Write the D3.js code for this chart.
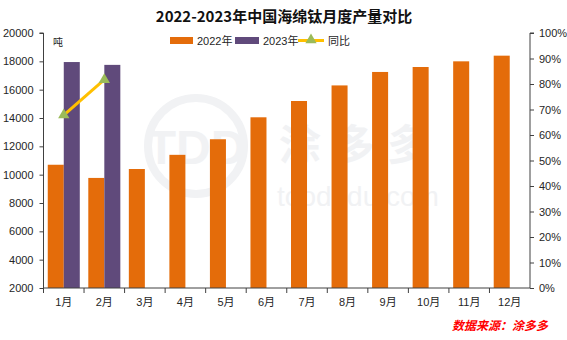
<!DOCTYPE html>
<html>
<head>
<meta charset="utf-8">
<script src="https://cdn.jsdelivr.net/npm/d3@7"></script>
<style>
  body { margin: 0; background: #fff; }
  text { font-family: Arial, "Liberation Sans", "Noto Sans CJK SC", sans-serif; }
</style>
</head>
<body>
<div id="chart"></div>
<script>
// data
const months = ["1月", "2月", "3月", "4月", "5月", "6月", "7月", "8月", "9月", "10月", "11月", "12月"];
const values2022 = [10700, 9770, 10400, 11400, 12500, 14050, 15200, 16300, 17250, 17600, 18000, 18400];
const values2023 = [17950, 17750];
const yoy = [0.678, 0.817];
const leftTicks = [2000, 4000, 6000, 8000, 10000, 12000, 14000, 16000, 18000, 20000];
const rightTicks = [0, 0.1, 0.2, 0.3, 0.4, 0.5, 0.6, 0.7, 0.8, 0.9, 1];

const W = 567, H = 340;
const margin = { top: 33, right: 37, bottom: 52, left: 43.5 };
const width = W - margin.left - margin.right;
const height = H - margin.top - margin.bottom;

const svg = d3.select("#chart").append("svg")
    .attr("width", W).attr("height", H);

// watermark
const wmColor = "#f1f2f4";
const wm = svg.append("g").attr("fill", wmColor).attr("stroke", "none");
wm.append("circle").attr("cx", 196).attr("cy", 146).attr("r", 48)
    .attr("fill", "none").attr("stroke", wmColor).attr("stroke-width", 8);
wm.append("text").attr("x", 196).attr("y", 164).attr("text-anchor", "middle")
    .attr("font-size", 48).attr("font-weight", "bold").text("TDD");
wm.append("text").attr("x", 360).attr("y", 160).attr("text-anchor", "middle")
    .attr("font-size", 42).attr("font-weight", "bold").style("font-family", "Noto Sans CJK SC")
    .attr("letter-spacing", 12).text("涂多多");
wm.append("text").attr("x", 358).attr("y", 206).attr("text-anchor", "middle")
    .attr("font-size", 28).text("toodudu.com");

const g = svg.append("g").attr("transform", `translate(${margin.left},${margin.top})`);

const x = d3.scaleBand().domain(months).range([0, width]).paddingInner(0.21).paddingOuter(0.105);
const xSub = d3.scaleBand().domain(["2022", "2023"]).range([0, x.bandwidth()]);
const y = d3.scaleLinear().domain([2000, 20000]).range([height, 0]);
const y2 = d3.scaleLinear().domain([0, 1]).range([height, 0]);

const orange = "#E46C0A", purple = "#604A7B", lineColor = "#FFC000", markColor = "#9BBB59";

// bars
g.selectAll(".b22").data(values2022).join("rect")
    .attr("x", (d, i) => x(months[i]) + xSub("2022"))
    .attr("y", d => y(d))
    .attr("width", xSub.bandwidth())
    .attr("height", d => height - y(d))
    .attr("fill", orange);

g.selectAll(".b23").data(values2023).join("rect")
    .attr("x", (d, i) => x(months[i]) + xSub("2023"))
    .attr("y", d => y(d))
    .attr("width", xSub.bandwidth())
    .attr("height", d => height - y(d))
    .attr("fill", purple);

// yoy line
const lineX = (d, i) => x(months[i]) + x.bandwidth() / 2;
g.append("path").datum(yoy)
    .attr("fill", "none").attr("stroke", lineColor).attr("stroke-width", 3)
    .attr("d", d3.line().x(lineX).y(d => y2(d)));
const tri = d3.symbol().type(d3.symbolTriangle).size(55);
g.selectAll(".m").data(yoy).join("path")
    .attr("d", tri)
    .attr("transform", (d, i) => `translate(${lineX(d, i)},${y2(d)})`)
    .attr("fill", markColor);

// axes
const axisColor = "#404040";
const leftAxis = g.append("g")
    .call(d3.axisLeft(y).tickValues(leftTicks).tickSize(4).tickPadding(6).tickFormat(d3.format("d")));
const rightAxis = g.append("g").attr("transform", `translate(${width},0)`)
    .call(d3.axisRight(y2).tickValues(rightTicks).tickSize(4).tickPadding(5).tickFormat(d3.format(".0%")));
const xAxisG = g.append("g").attr("transform", `translate(0,${height})`);
xAxisG.append("line").attr("x1", 0).attr("x2", width).attr("y1", 0).attr("y2", 0)
    .attr("stroke", axisColor);
xAxisG.selectAll(".tk").data(months).join("line")
    .attr("x1", d => x(d) - x.step() * x.paddingInner() / 2)
    .attr("x2", d => x(d) - x.step() * x.paddingInner() / 2)
    .attr("y1", 0).attr("y2", 5).attr("stroke", axisColor);
xAxisG.selectAll(".lb").data(months).join("text")
    .attr("x", d => x(d) + x.bandwidth() / 2)
    .attr("y", 18)
    .attr("text-anchor", "middle")
    .attr("font-size", 11).attr("fill", "#262626")
    .text(d => d);

[leftAxis, rightAxis].forEach(a => {
    a.select(".domain").attr("stroke", axisColor);
    a.selectAll(".tick line").attr("stroke", axisColor);
    a.selectAll(".tick text").attr("font-size", 11).attr("fill", "#262626")
        .style("font-family", "Arial, 'Liberation Sans', sans-serif");
});
leftAxis.select(".domain").attr("d", `M-4,0H0V${height}`);
rightAxis.select(".domain").attr("d", `M4,0H0V${height}`);

// unit label
svg.append("text").attr("x", 53).attr("y", 46).attr("font-size", 10).attr("fill", "#262626")
    .text("吨");

// title
svg.append("text").attr("x", 284).attr("y", 22).attr("text-anchor", "middle")
    .attr("font-size", 15).attr("font-weight", "bold").attr("fill", "#111")
    .style("font-family", "'Noto Sans CJK SC', sans-serif")
    .text("2022-2023年中国海绵钛月度产量对比");

// legend
const lg = svg.append("g").attr("font-size", 11).attr("fill", "#262626");
lg.append("rect").attr("x", 170).attr("y", 37).attr("width", 23).attr("height", 7).attr("fill", orange);
lg.append("text").attr("x", 197).attr("y", 45).text("2022年");
lg.append("rect").attr("x", 235).attr("y", 37).attr("width", 24).attr("height", 7).attr("fill", purple);
lg.append("text").attr("x", 263).attr("y", 45).text("2023年");
lg.append("line").attr("x1", 298).attr("x2", 324).attr("y1", 40.5).attr("y2", 40.5)
    .attr("stroke", lineColor).attr("stroke-width", 3);
lg.append("path").attr("d", tri).attr("transform", "translate(311,40)").attr("fill", markColor);
lg.append("text").attr("x", 328).attr("y", 45).text("同比");

// source
svg.append("text").attr("x", 548).attr("y", 330).attr("text-anchor", "end")
    .attr("font-size", 12).attr("font-weight", "bold").attr("font-style", "italic")
    .attr("fill", "#FF0000").style("font-family", "'Noto Sans CJK SC', sans-serif")
    .text("数据来源：涂多多");
</script>
</body>
</html>
